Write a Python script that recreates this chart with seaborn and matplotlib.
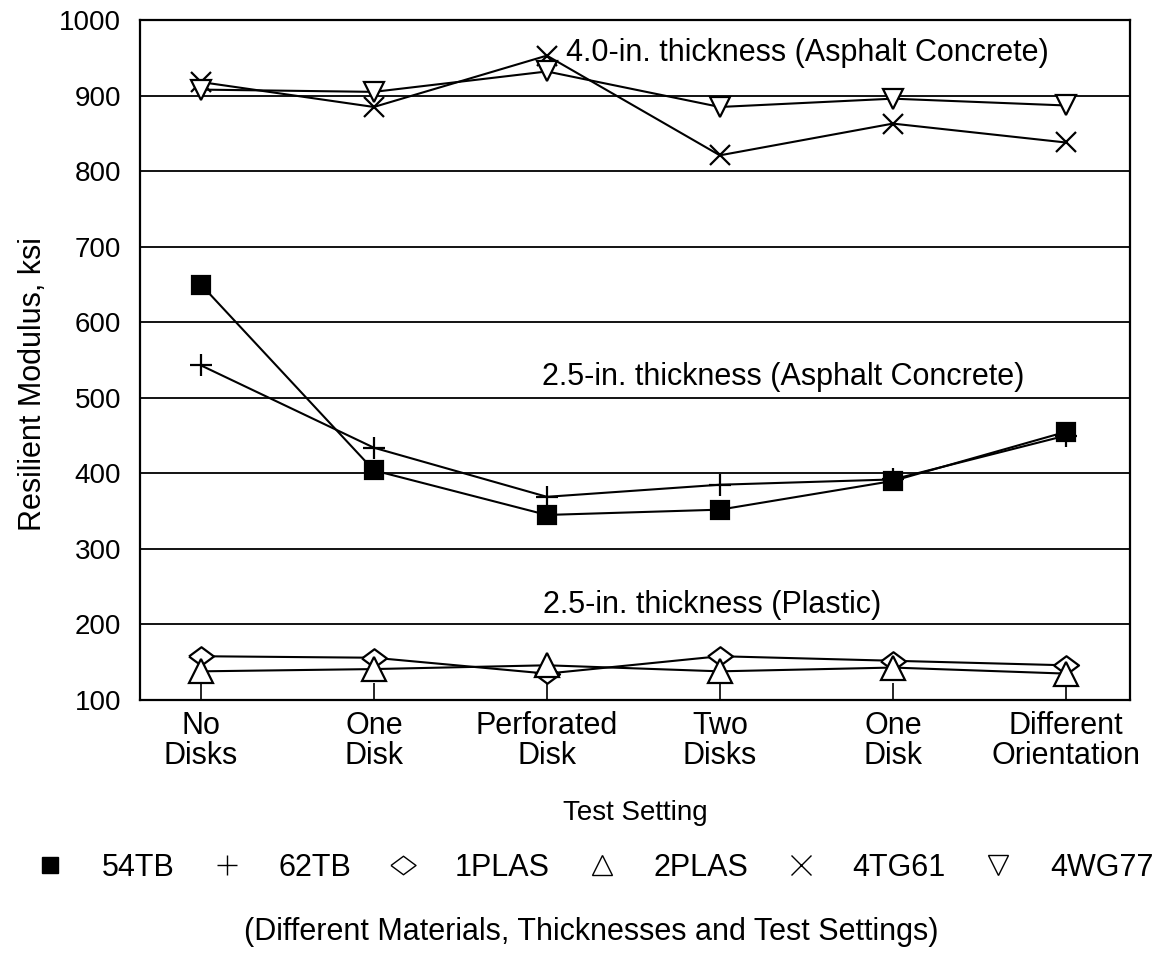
import matplotlib
matplotlib.use('Agg')
import matplotlib.pyplot as plt
from matplotlib.lines import Line2D
import seaborn as sns
import numpy as np
import pandas as pd

settings = ['No\nDisks', 'One\nDisk', 'Perforated\nDisk', 'Two\nDisks', 'One\nDisk', 'Different\nOrientation']

mat_54tb = [650, 404, 345, 352, 390, 455]
mat_62tb = [543, 434, 369, 385, 392, 450]
mat_1plas = [158, 156, 135, 158, 152, 146]
mat_2plas = [138, 141, 146, 138, 143, 135]
mat_4tg61 = [918, 885, 953, 821, 863, 838]
mat_4wg77 = [908, 905, 932, 885, 896, 887]

names = ['54TB', '62TB', '1PLAS', '2PLAS', '4TG61', '4WG77']
y_ticks = [100, 200, 300, 400, 500, 600, 700, 800, 900, 1000]

# wide, flat diamond like the original
flat_diamond = [(-1.35, 0), (0, 1), (1.35, 0), (0, -1), (-1.35, 0)]


def main():
	sns.set_theme(style='white')
	plt.rcParams['font.family'] = ['Liberation Sans', 'DejaVu Sans']
	plt.rcParams['text.color'] = 'black'
	plt.rcParams['axes.labelcolor'] = 'black'
	plt.rcParams['xtick.color'] = 'black'
	plt.rcParams['ytick.color'] = 'black'

	series = [mat_54tb, mat_62tb, mat_1plas, mat_2plas, mat_4tg61, mat_4wg77]
	# marker, size, face colour
	styles = {
		'54TB': ('s', 13, 'black'),
		'62TB': ('+', 16, 'none'),
		'1PLAS': (flat_diamond, 18, 'white'),
		'2PLAS': ('^', 17, 'white'),
		'4TG61': ('x', 15, 'none'),
		'4WG77': ('v', 15, 'white'),
	}

	fig = plt.figure(figsize=(11.6, 9.57), dpi=100)
	ax = fig.add_axes([0.121, 0.2685, 0.853, 0.7105])

	pos = np.arange(len(settings))
	for name, vals in zip(names, series):
		m, ms, fc = styles[name]
		df = pd.DataFrame({'pos': pos, 'val': vals})
		sns.lineplot(data=df, x='pos', y='val', ax=ax, color='black', lw=1.5,
			marker=m, markersize=ms, markerfacecolor=fc, markeredgecolor='black',
			markeredgewidth=1.6, zorder=3)

	ax.set_ylim(100, 1000)
	ax.set_xlim(-0.35, 5.37)
	ax.set_yticks(y_ticks)
	ax.set_xticks(pos)
	ax.set_xticklabels(settings, fontsize=22, linespacing=1.0)
	ax.tick_params(axis='y', labelsize=20, length=0, pad=14)
	ax.tick_params(axis='x', direction='in', length=12, width=1.2, color='black', pad=8, bottom=True)
	ax.grid(axis='y', color='black', lw=1.3)
	ax.grid(axis='x', visible=False)
	for s in ax.spines.values():
		s.set_color('black')
		s.set_linewidth(1.6)

	ax.set_ylabel('Resilient Modulus, ksi', fontsize=22)
	ax.yaxis.set_label_coords(-0.093, 0.465)
	ax.set_xlabel('Test Setting', fontsize=20)
	ax.xaxis.set_label_coords(0.5, -0.147)

	ax.text(2.11, 956, '4.0-in. thickness (Asphalt Concrete)', fontsize=22, ha='left', va='center')
	ax.text(1.97, 528, '2.5-in. thickness (Asphalt Concrete)', fontsize=22, ha='left', va='center')
	ax.text(1.98, 226, '2.5-in. thickness (Plastic)', fontsize=22, ha='left', va='center')

	handles = []
	for name in names:
		m, ms, fc = styles[name]
		if name == '54TB':
			handles.append(Line2D([], [], ls='none', marker=m, ms=11, mfc='black', mec='black'))
		elif name == '1PLAS':
			handles.append(Line2D([], [], ls='none', marker=m, ms=18, mfc='white', mec='black', mew=1.0))
		else:
			handles.append(Line2D([], [], ls='none', marker=m, ms=14, mfc='white' if fc == 'white' else 'none',
				mec='black', mew=1.0))
	fig.legend(handles, names, loc='center', bbox_to_anchor=(0.512, 0.093), ncol=6, frameon=False,
		fontsize=22, handletextpad=1.2, columnspacing=1.2, handlelength=1.0, borderpad=0.1)

	fig.text(0.51, 0.026, '(Different Materials, Thicknesses and Test Settings)', fontsize=22, ha='center', va='center')

	fig.savefig('out.png', dpi=100)


if __name__ == '__main__':
	main()
